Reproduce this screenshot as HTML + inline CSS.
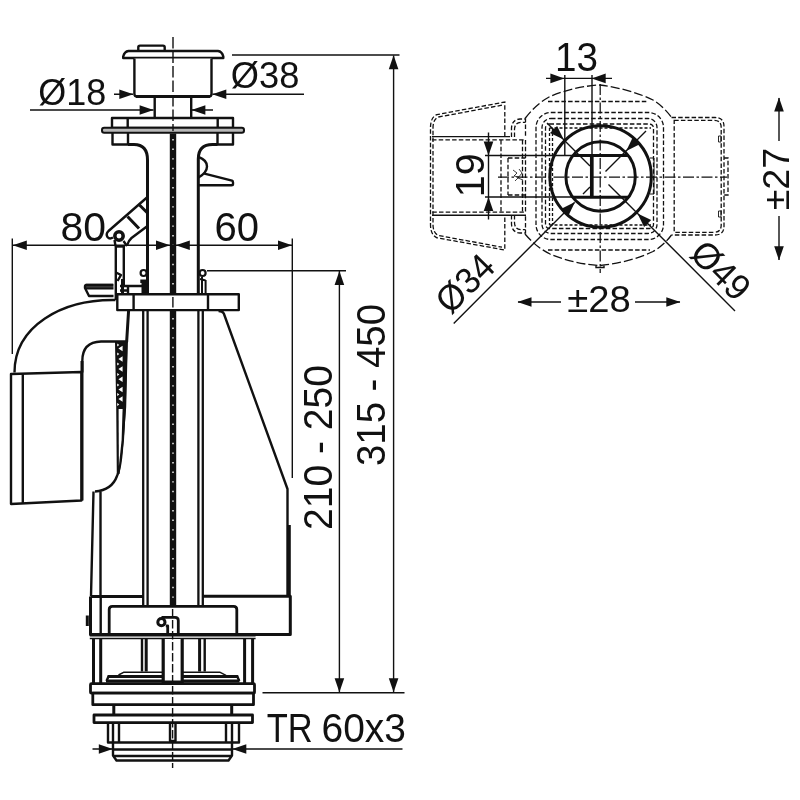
<!DOCTYPE html>
<html>
<head>
<meta charset="utf-8">
<title>Drawing</title>
<style>
html,body{margin:0;padding:0;background:#fff;}
body{width:800px;height:800px;overflow:hidden;font-family:"Liberation Sans",sans-serif;}
svg{display:block;}
text{font-family:"Liberation Sans",sans-serif;fill:#111;}
.o{fill:none;stroke:#111;stroke-width:2.4;stroke-linejoin:round;stroke-linecap:butt;}
.ow{fill:#fff;stroke:#111;stroke-width:2.4;stroke-linejoin:round;}
.m{fill:none;stroke:#111;stroke-width:1.5;stroke-linejoin:round;}
.t{fill:none;stroke:#111;stroke-width:1.4;}
.k{fill:none;stroke:#111;stroke-width:3;stroke-linejoin:round;}
.d{fill:none;stroke:#111;stroke-width:1.3;stroke-dasharray:4.5 2.2;}
.dd{fill:none;stroke:#111;stroke-width:1.25;stroke-dasharray:11 2.5 2.5 2.5;}
.a{fill:#111;stroke:none;}
</style>
</head>
<body>
<svg width="800" height="800" viewBox="0 0 800 800" style="will-change:transform">
<rect x="0" y="0" width="800" height="800" fill="#fff"/>

<!-- ================= MAIN SECTION VIEW ================= -->
<g id="main">

<!-- push button -->
<path class="o" d="M138.3,50 V47.2 Q138.3,45.6 140,45.6 H163 Q164.7,45.6 164.7,47.2 V50"/>
<path class="ow" d="M128.5,51 H218 Q222,51.5 223.3,56.5 L223.3,58 H123.2 L123.2,56.5 Q124.5,51.5 128.5,51 Z"/>
<path class="ow" d="M134.4,58.5 V94 Q134.4,96.5 137,96.5 H209 Q211.5,96.5 211.5,94 V58.5"/>
<path class="k" d="M136,96.6 H210"/>
<path class="o" d="M154.7,98 V118 M191.2,98 V118"/>

<!-- flange -->
<rect class="ow" x="112" y="118" width="121" height="10"/>
<path class="o" d="M112.5,133 V144.5 H128 V133 M217.5,133 V144.5 H233 V133"/>
<path class="o" d="M127.7,118 V128 M217.7,118 V128"/>
<rect x="102" y="127.8" width="142" height="5" rx="2.2" fill="#b8b8b8" stroke="#111" stroke-width="2"/>

<!-- neck curves + tube walls above plate -->
<path class="k" d="M128,144.5 H134 Q147.5,144.5 147.5,160 V294"/>
<path class="k" d="M217.5,144.5 H212.5 Q198.3,144.5 198.3,159 V294"/>

<!-- right clip -->
<path class="o" d="M198.5,157 Q207,160 207,166.5 Q207,172.5 198.5,177.5"/>
<path class="o" d="M203.5,173.3 L232,180.6 Q233,181 233,182.5 V184 Q233,185.3 231.5,185.3 H198.5"/>

<!-- left lever arm -->
<path class="o" d="M147.5,197 L108.5,231 Q105.5,234 107.5,237 Q109.5,239.5 113,237.5"/>
<path class="o" d="M147.5,226 L131.5,238 Q128.5,240.5 127,245.5"/>
<path class="k" d="M127.5,216.5 L139,228.5 M139.5,205 L147.5,213"/>
<circle cx="119" cy="236" r="4.2" fill="#fff" stroke="#111" stroke-width="3.5"/>
<path class="o" d="M114.5,240 L115.5,246 M123.5,241 L127,246"/>

<!-- link rod -->
<path class="o" d="M115.8,246 V300 M123.8,246 V285"/>
<path class="o" d="M115.8,246.5 H124"/>
<path class="o" d="M116,272.5 L121,275 L117.5,281"/>
<path class="k" d="M122.5,279 V293"/>

<!-- overflow elbow lid -->
<path class="o" d="M113,285 H86.5 Q85,285 85,286.5 V288 L89,296 H113.5"/>
<path class="k" d="M85.5,285.3 H113.5"/>
<path class="o" d="M85.5,288.3 H113.5"/>
<path class="o" d="M120,286 H144 M128,286 V294 M120,290.5 H128"/>

<!-- knobs -->
<circle cx="143.6" cy="273" r="3" fill="#fff" stroke="#111" stroke-width="2.2"/>
<path d="M140.3,279.5 H146 V294 H141.5 V283 H140.3 Z" fill="#111"/>
<circle cx="202.6" cy="273" r="3" fill="#fff" stroke="#111" stroke-width="2.2"/>
<path class="o" d="M202,277 V294 M205.6,280 V294 M200,279 L205.6,280.5" style="stroke-width:2"/>

<!-- plate -->
<rect class="ow" x="117.3" y="294.3" width="121.5" height="15.8"/>
<path class="o" d="M133.6,294.3 V310.3 M208,294.3 V310.3"/>
<path class="t" d="M172.9,297 V307.5"/>

<!-- elbow -->
<path class="o" d="M115.5,300 C 62,299 14.5,326 14.5,372.5"/>
<path class="o" d="M128,341.5 H101 Q82.3,342 82.3,361 V372.5"/>

<!-- float box -->
<path class="ow" d="M11,374 L81.5,372 V500.5 L11,504 Z"/>
<path class="o" d="M22.8,373.6 L22.8,503.4"/>
<path class="k" d="M82,361 V500.5"/>

<!-- body left -->
<path class="k" d="M128.6,310.5 L126.6,342"/>
<path class="o" d="M126.6,342 L125,407 L122.5,440 Q121,468 117,476 Q112,490 95,491.5"/>
<path d="M115,341.5 H127.6 L125.8,407 L124,440 L119.5,474 L116.8,474 L116.2,407 Z" fill="#111"/>
<path d="M122.6,345.8 L118.4,348.5 L122.6,351.2 Z M122.6,356.3 L118.4,359.0 L122.6,361.7 Z M122.6,366.3 L118.4,369.0 L122.6,371.7 Z M122.6,376.6 L118.4,379.3 L122.6,382.0 Z M122.6,386.8 L118.4,389.5 L122.6,392.2 Z M122.6,396.3 L118.4,399.0 L122.6,401.7 Z M117.2,343.4 L119.3,345.0 L117.2,346.6 Z M117.2,352.4 L119.3,354.0 L117.2,355.6 Z M117.2,362.4 L119.3,364.0 L117.2,365.6 Z M117.2,372.9 L119.3,374.5 L117.2,376.1 Z M117.2,383.4 L119.3,385.0 L117.2,386.6 Z M117.2,392.9 L119.3,394.5 L117.2,396.1 Z M117.2,402.9 L119.3,404.5 L117.2,406.1 Z" fill="#fff"/>
<path d="M118.6,409 L122.6,409 L121.6,440 L118.9,466 Z" fill="#fff"/>
<path class="o" d="M93.5,491.5 L91,596 M100.5,491.5 L100.5,596"/>

<!-- tube walls below plate -->
<path class="m" d="M143.2,310.5 V606 M147.6,310.5 V606" style="stroke-width:2.3"/>
<path class="m" d="M198.4,310.5 V606 M202.8,310.5 V606" style="stroke-width:2.3"/>

<!-- body right -->
<path class="o" d="M218.5,311 Q222.5,311 223.8,313.5 L287.5,489 V595"/>
<path class="k" d="M289.3,525 V596"/>

<!-- base -->
<path class="k" d="M90.5,596.5 H143 M202.5,596.3 H290.3 V634.5 H90.5 V596.5"/>
<path class="o" d="M100.7,596 V634"/>
<path class="k" d="M87.3,615.5 V626"/>
<path class="ow" d="M109.2,634 V609.5 Q109.2,606.3 112.4,606.3 H233.6 Q236.8,606.3 236.8,609.5 V634" style="stroke-width:2.8"/>
<!-- hook -->
<circle cx="161.4" cy="622.2" r="3.6" fill="#fff" stroke="#111" stroke-width="3"/>
<path class="o" d="M161.5,617.3 H175 Q178.3,617.3 178.3,620.5 V634 M165.8,625.8 H167.7 V634" style="stroke-width:2.8"/>

<!-- cage top plate -->
<path d="M89.8,634.8 H255.6" stroke="#111" stroke-width="3.4" fill="none"/>
<path d="M89.8,638.4 H255.6" stroke="#111" stroke-width="1.5" fill="none"/>
<!-- rod with dots -->
<rect x="169.8" y="133.5" width="6.4" height="160" fill="#111"/><rect x="169.8" y="311" width="6.4" height="294.5" fill="#111"/>
<path d="M173,139 V292 M173,318 V604" stroke="#fff" stroke-width="1.4" stroke-dasharray="1.4 8.2" fill="none"/>
<!-- centre axis top -->
<path class="t" d="M173,37 V131" style="stroke-dasharray:11.5 3"/>

<!-- cage -->
<path class="k" d="M93.5,639 V683 M100.7,639 V683 M244.6,639 V683 M252.6,639 V683"/>
<path class="o" d="M142,639 V671.5 M204.7,639 V671.5"/>
<path class="k" d="M146.2,639 V671.5 M199.6,639 V671.5"/>
<path d="M163.2,639 V682 H182.2 V639" fill="#fff" stroke="#111" stroke-width="3.2"/>
<path class="m" d="M163,672.2 H124 L118.5,675 M182.4,672.2 H219.7 L226,675.3"/>
<path class="k" d="M163,676.4 H107.5 M182.4,676.4 H238.3"/>
<path class="o" d="M108.5,676.4 L106.5,681 M237.3,676.4 L239.3,681"/>
<path class="k" d="M106,681 H163 M182.4,681 H239.5"/>
<!-- rings -->
<rect class="ow" x="90.5" y="683.7" width="164" height="9.5" rx="1" style="stroke-width:2.8"/>
<rect class="ow" x="92.8" y="693.2" width="160.7" height="11.5" style="stroke-width:2.8"/>
<path class="k" d="M113.8,704.7 V715 M231.7,704.7 V715"/>
<rect class="ow" x="94" y="715" width="158.5" height="7.6" style="stroke-width:2.8"/>
<!-- thread -->
<path class="o" d="M108,722.6 V742.5 H113 M239,722.6 V742.5 H232.5"/>
<path class="o" d="M113,722.6 V755.5 L116.5,760.5 H228.5 L232,755.5 V722.6"/>
<path class="o" d="M119,722.6 V742.5 M226,722.6 V742.5"/>
<path class="o" d="M113,742.5 H232 M113,749.5 H232 M113,756 H232"/>
<path class="o" d="M170,722.6 V741 H175.5 V722.6"/>
<!-- centre axis bottom -->
<path class="t" d="M172.6,609 V768" style="stroke-dasharray:8.5 2.5"/>

</g>
<!-- ============ DIMENSIONS (main) ============ -->
<g id="dims">
<path class="t" d="M30,110 H153.5 M191.5,110 H213"/>
<path class="a" d="M153.6,110.0 L139.6,114.8 L139.6,105.2 Z"/>
<path class="a" d="M191.4,110.0 L205.4,105.2 L205.4,114.8 Z"/>
<path class="t" d="M114,94.3 H133 M212.5,94.3 H304"/>
<path class="a" d="M133.3,94.3 L119.3,99.1 L119.3,89.5 Z"/>
<path class="a" d="M212.3,94.3 L226.3,89.5 L226.3,99.1 Z"/>
<path class="t" d="M232,55 H399.5"/>
<path class="t" d="M12.5,245.3 H292.5"/>
<path class="t" d="M12.3,238.5 V354 M292.3,238.5 V478"/>
<path class="a" d="M12.8,245.3 L26.8,240.5 L26.8,250.1 Z"/>
<path class="a" d="M170.0,245.3 L156.0,250.1 L156.0,240.5 Z"/>
<path class="a" d="M175.8,245.3 L189.8,240.5 L189.8,250.1 Z"/>
<path class="a" d="M292.0,245.3 L278.0,250.1 L278.0,240.5 Z"/>
<path class="t" d="M207,270.7 H346 M339.4,271 V692"/>
<path class="a" d="M339.4,270.9 L344.2,284.9 L334.6,284.9 Z"/>
<path class="a" d="M339.4,692.3 L334.6,678.3 L344.2,678.3 Z"/>
<path class="t" d="M393.6,55.5 V692"/>
<path class="a" d="M393.6,55.2 L398.4,69.2 L388.8,69.2 Z"/>
<path class="a" d="M393.6,692.3 L388.8,678.3 L398.4,678.3 Z"/>
<path class="t" d="M262.5,692.7 H404.5"/>
<path class="t" d="M92.5,749 H112 M233,749 H402.5"/>
<path class="a" d="M112.8,749.0 L98.8,753.8 L98.8,744.2 Z"/>
<path class="a" d="M232.3,749.0 L246.3,744.2 L246.3,753.8 Z"/>
<text x="38.3" y="105" font-size="36.5" textLength="68" lengthAdjust="spacingAndGlyphs">Ø18</text>
<text x="230.8" y="88" font-size="36.5" textLength="68.5" lengthAdjust="spacingAndGlyphs">Ø38</text>
<text x="60.5" y="241.3" font-size="40" textLength="45.5" lengthAdjust="spacingAndGlyphs">80</text>
<text x="214.5" y="241.3" font-size="40" textLength="44.5" lengthAdjust="spacingAndGlyphs">60</text>
<text transform="translate(331.5,530) rotate(-90)" font-size="40" textLength="165" lengthAdjust="spacingAndGlyphs">210 - 250</text>
<text transform="translate(385,466) rotate(-90)" font-size="40" textLength="162" lengthAdjust="spacingAndGlyphs">315 - 450</text>
<text x="266.8" y="742" font-size="40" textLength="46" lengthAdjust="spacingAndGlyphs">TR</text>
<text x="321.5" y="742" font-size="40" textLength="84.5" lengthAdjust="spacingAndGlyphs">60x3</text>
</g>
<!-- ================= TOP VIEW ================= -->
<g id="top">
<rect class="d" x="536.0" y="112.5" width="127.5" height="127.0" rx="15.0"/>
<rect class="d" x="542.0" y="118.5" width="115.0" height="115.0" rx="9.0"/>
<rect class="d" x="545.5" y="124.0" width="108.0" height="104.5" rx="4.0"/>
<path class="d" d="M525,118.5 C531,111 538,103 550,96.5 C565,90 585,85.5 600,85 C618,87 640,93.5 653,100 C661,105 667,111 671.5,117.5" style="stroke-dasharray:9 3"/>
<path class="d" d="M525,234 C531,241 538,248 550,254 C565,260.5 585,265 600,265.5 C618,264 640,258 653,251.5 C661,247 667,241 671.5,235" style="stroke-dasharray:9 3"/>
<path class="d" d="M548,101.5 H648 M548,250 H650"/>
<path class="t" d="M596,265.5 V267.5 H604 V265.5"/>
<path class="d" d="M671.5,117.5 H715 Q724,117.5 724,126.5 V226 Q724,235 715,235 H671.5"/>
<path class="d" d="M674.2,120.3 H714 Q721.2,120.3 721.2,127.5 V225 Q721.2,232.3 714,232.3 H674.2 Z"/>
<path class="d" d="M724,158 H728 V195 H724"/>
<path class="t" d="M718.5,136 h2.5 v6 h-2.5 z M718.5,211 h2.5 v6 h-2.5 z" style="stroke-width:0.9"/>
<path class="d" d="M504.8,136.5 V102 L437,114.6 Q430.5,117 430.5,128 V224.5 Q430.5,235 437,237.8 L504.8,250 V215.5"/>
<path class="d" d="M502,105.2 L438.5,117 Q433,119 433,128 V224.5 Q433,233 438.5,235.5 L502,247.2"/>
<path class="t" d="M432,136.6 H510 M432,215.3 H526"/>
<path class="d" d="M432,139.8 H525.5 V212.2 H432"/>
<path class="d" d="M501,140 V212 M522.5,140 V212"/>
<path class="d" d="M511.5,137 V128 Q512,119.5 520,119 H525.5 V137 M514.5,137 V129 Q515,122.5 521,122.3 H525.5"/>
<path class="d" d="M511.5,215 V224 Q512,232.5 520,233 H525.5 V215 M514.5,215 V223 Q515,229.5 521,229.7 H525.5"/>
<path class="d" d="M508,158 H525.5 M508,195 H525.5 M508,158 V195"/>
<path class="t" d="M513,170 l4,3 l-3,3 l5,1 l-4,4 M519,169 l3,4 l-4,5 l5,2" style="stroke-width:0.8"/>
<path class="d" d="M549.5,128 V225 M552.5,128 V225" style="stroke-dasharray:3 2"/>
<path class="d" d="M549.5,128 H651 M549.5,225 H651" style="stroke-dasharray:3 2"/>
<path class="t" d="M650,158 H654 V194 H650" style="stroke-width:1"/>
<path class="dd" d="M498,177 H727"/>
<path class="dd" d="M600.2,84 V273"/>
<circle cx="600.6" cy="176.5" r="50.7" fill="none" stroke="#111" stroke-width="3"/>
<circle cx="600.6" cy="176.5" r="34.7" fill="none" stroke="#111" stroke-width="3"/>
<path d="M573,155.6 H628.3 M573,197.2 H628.3" fill="none" stroke="#111" stroke-width="3"/>
<path d="M591.8,155 V198" stroke="#111" stroke-width="3.7" fill="none"/>
<path class="t" d="M547,122.9 L590,165.9 M608.5,184.4 L735,310.9"/>
<path class="t" d="M646,131.1 L605.5,171.6 M590,187.1 L583,194.1 M574.5,202.6 L453.7,323.4"/>
<path class="a" d="M563.7,139.6 L550.0,133.0 L557.1,125.9 Z"/>
<path class="a" d="M637.5,213.4 L651.2,220.0 L644.1,227.1 Z"/>
<path class="a" d="M626.2,150.9 L632.8,137.3 L639.8,144.3 Z"/>
<path class="a" d="M575.0,202.1 L568.4,215.7 L561.4,208.7 Z"/>
<path class="t" d="M546,78.4 H612 M564.8,75 V155.5 M592,75 V155"/>
<path class="a" d="M564.4,78.4 L550.4,83.2 L550.4,73.6 Z"/>
<path class="a" d="M591.7,78.4 L605.7,73.6 L605.7,83.2 Z"/>
<path class="t" d="M488.5,132.5 V219.5 M485,155.5 H573 M485,197 H572"/>
<path class="a" d="M488.5,155.5 L483.7,141.5 L493.3,141.5 Z"/>
<path class="a" d="M488.5,197.0 L493.3,211.0 L483.7,211.0 Z"/>
<path class="t" d="M518,302 H561 M635,302 H680"/>
<path class="a" d="M517.5,302.0 L531.5,297.2 L531.5,306.8 Z"/>
<path class="a" d="M680.3,302.0 L666.3,306.8 L666.3,297.2 Z"/>
<path class="t" d="M779,98 V141 M779,216 V260"/>
<path class="a" d="M779.0,97.5 L783.8,111.5 L774.2,111.5 Z"/>
<path class="a" d="M779.0,260.3 L774.2,246.3 L783.8,246.3 Z"/>
<text x="555" y="70.8" font-size="40" textLength="43" lengthAdjust="spacingAndGlyphs">13</text>
<text transform="translate(483.9,197.2) rotate(-90)" font-size="40" textLength="44" lengthAdjust="spacingAndGlyphs">19</text>
<text x="567.3" y="311.8" font-size="37" textLength="63.5" lengthAdjust="spacingAndGlyphs">±28</text>
<text transform="translate(788.8,210.3) rotate(-90)" font-size="36.5" textLength="62.5" lengthAdjust="spacingAndGlyphs">±27</text>
<text transform="translate(450.5,315.4) rotate(-45)" font-size="36.5" textLength="66" lengthAdjust="spacingAndGlyphs">Ø34</text>
<text transform="translate(688.2,255.5) rotate(45)" font-size="36.5" textLength="67" lengthAdjust="spacingAndGlyphs">Ø49</text>
</g>
</svg>
</body>
</html>
